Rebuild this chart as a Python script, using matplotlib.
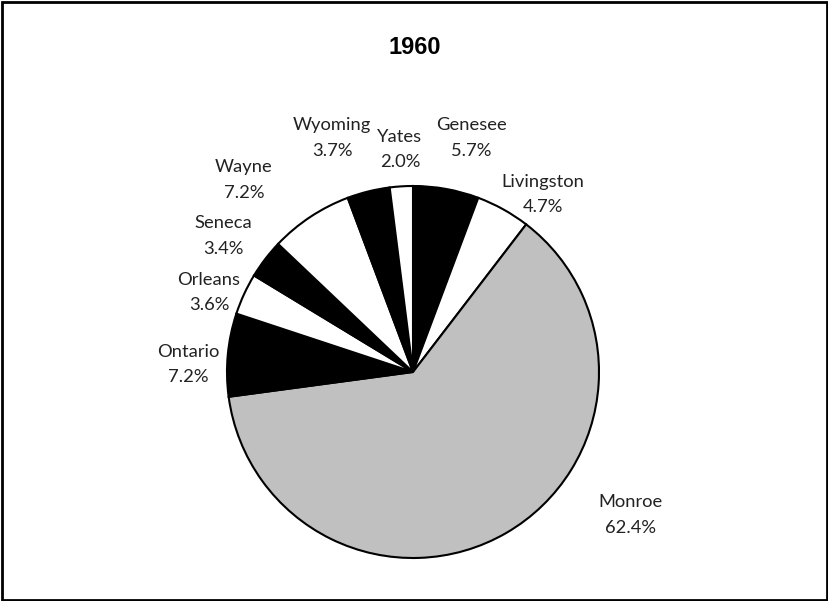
import matplotlib
matplotlib.use("Agg")
import matplotlib.pyplot as plt
from matplotlib.patches import Rectangle

title = "1960"
counties = ["Genesee", "Livingston", "Monroe", "Ontario", "Orleans",
            "Seneca", "Wayne", "Wyoming", "Yates"]
shares = [5.7, 4.7, 62.4, 7.2, 3.6, 3.4, 7.2, 3.7, 2.0]
colors = ["black", "white", "#c0c0c0", "black", "white",
          "black", "white", "black", "white"]

# label layout (in pie-radius units, relative to the pie centre)
label_pos = [(0.312, 1.258), (0.699, 0.952), (1.167, -0.769), (-1.210, 0.038),
             (-1.097, 0.425), (-1.022, 0.731), (-0.909, 1.032), (-0.435, 1.258),
             (-0.070, 1.194)]

W, H = 829, 601
cx, cy, R = 413, 372, 186

fig = plt.figure(figsize=(W / 100, H / 100), dpi=100)
ax = fig.add_axes([0, 0, 1, 1])
ax.pie(shares, colors=colors, startangle=90, counterclock=False,
       radius=1.0, center=(0, 0),
       wedgeprops=dict(edgecolor="black", linewidth=1.5))
ax.set_xlim(-cx / R, (W - cx) / R)
ax.set_ylim(-(H - cy) / R, cy / R)
ax.set_aspect("auto")
ax.axis("off")

font = "Lato"
for name, val, (lx, ly) in zip(counties, shares, label_pos):
    ax.text(lx, ly, f"{name}\n{val:.1f}%", ha="center", va="center",
            fontsize=13.2, family=font, color="#222222",
            linespacing=1.7)

fig.text(0.5, 1 - 48 / H, title, ha="center", va="center",
         fontsize=17, fontweight="bold", family="Liberation Sans")

fig.patches.append(Rectangle((0.002, 0.002), 0.996, 0.994, transform=fig.transFigure,
                             fill=False, edgecolor="black", linewidth=2))

fig.savefig("out.png", dpi=100)
